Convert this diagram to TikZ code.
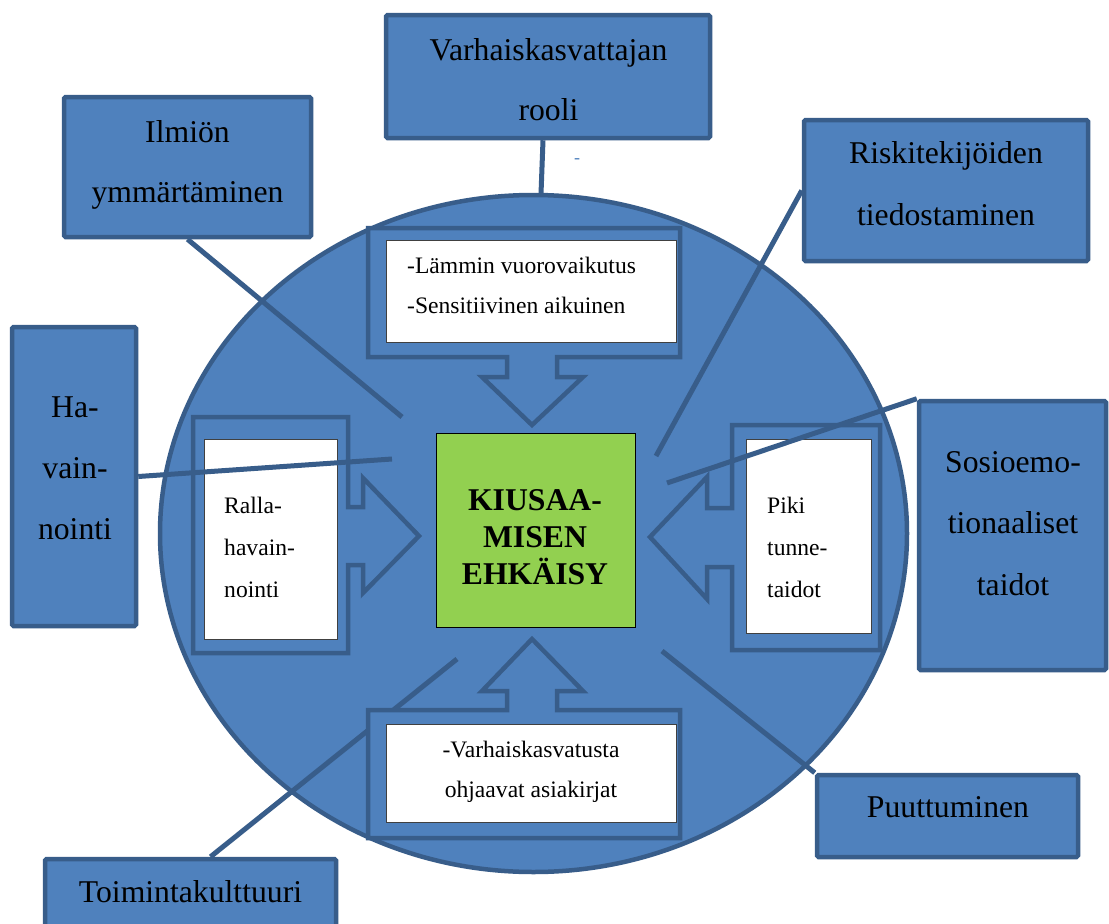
\documentclass[tikz,border=0pt]{standalone}
\usepackage{fontspec}
\setmainfont{Liberation Serif}
\definecolor{officeblue}{HTML}{4F81BD}
\definecolor{edgeblue}{HTML}{385D8A}
\definecolor{leafgreen}{HTML}{92D050}
\begin{document}
\begin{tikzpicture}[x=1pt,y=-1pt,
  bluebox/.style={draw=edgeblue, fill=officeblue, line width=4.5pt, rounded corners=1.5pt, inner sep=0pt},
  whitebox/.style={draw=black!75, fill=white, line width=1pt, inner sep=0pt},
  centrebox/.style={draw=black, fill=leafgreen, line width=1pt, inner sep=0pt},
  callout/.style={draw=edgeblue, fill=officeblue, line width=4.5pt, line join=miter},
  conn/.style={draw=edgeblue, line width=5pt},
  bigtext/.style={font=\fontsize{31.7}{38}\selectfont, anchor=base, inner sep=0pt},
  smalltext/.style={font=\fontsize{23.6}{28}\selectfont, anchor=base, inner sep=0pt},
  boldtext/.style={font=\fontsize{31.7}{38}\selectfont\bfseries, anchor=base, inner sep=0pt}]
\useasboundingbox (0,0) rectangle (1109,924);
\fill[white] (0,0) rectangle (1109,924);

% the large disc
\fill[officeblue, draw=edgeblue, line width=4.5pt] (533.5,533.5) ellipse [x radius=373.5, y radius=338.5];

% outer topic boxes
\node[bluebox, minimum width=324pt, minimum height=123pt] (varh) at (548,76.5) {};
\node[bluebox, minimum width=247pt, minimum height=140pt] (ilm) at (187.5,167) {};
\node[bluebox, minimum width=284pt, minimum height=141pt] (risk) at (946,190.5) {};
\node[bluebox, minimum width=124pt, minimum height=299pt] (hav) at (74,476.5) {};
\node[bluebox, minimum width=187pt, minimum height=269pt] (sos) at (1012.5,535.5) {};
\node[bluebox, minimum width=261pt, minimum height=82pt] (puut) at (947.5,816) {};
\node[bluebox, minimum width=291pt, minimum height=131pt] (toim) at (190.5,924.5) {};

% free ends of the connectors inside the disc
\coordinate (varhEnd) at (541,194);
\coordinate (ilmEnd) at (402,417);
\coordinate (riskEnd) at (656,456);
\coordinate (havEnd) at (392,459);
\coordinate (sosEnd) at (667,483);
\coordinate (puutEnd) at (662,651);
\coordinate (toimEnd) at (457,659);

% connectors that lie beneath the arrow callouts
\draw[conn] ([xshift=-5pt]varh.south) -- (varhEnd);
\draw[conn] (ilm.south) -- (ilmEnd);
\draw[conn] (risk.west) -- (riskEnd);
\draw[conn] (puut.north west) -- (puutEnd);
\draw[conn] ([xshift=20pt]toim.north) -- (toimEnd);

% arrow callouts pointing at the centre
\draw[callout] (368,228) -- (680,228) -- (680,357) -- (557,357) -- (557,377) -- (583,377)
  -- (532,425) -- (482,377) -- (507,377) -- (507,357) -- (368,357) -- cycle;
\draw[callout] (368,838) -- (680,838) -- (680,710) -- (557,710) -- (557,691) -- (583,691)
  -- (532,639) -- (482,691) -- (507,691) -- (507,710) -- (368,710) -- cycle;
\draw[callout] (193,417) -- (348,417) -- (348,507) -- (363,507) -- (363,478) -- (419,536)
  -- (363,593) -- (363,565) -- (348,565) -- (348,653) -- (193,653) -- cycle;
\draw[callout] (880,425) -- (732,425) -- (732,508) -- (707,508) -- (707,477) -- (650,537)
  -- (707,599) -- (707,567) -- (732,567) -- (732,650) -- (880,650) -- cycle;

% white text panels inside the callouts
\node[whitebox, minimum width=290pt, minimum height=102pt] (wtop) at (531,291) {};
\node[whitebox, minimum width=133pt, minimum height=200pt] (wleft) at (270.5,539) {};
\node[whitebox, minimum width=125pt, minimum height=194pt] (wright) at (808.5,536) {};
\node[whitebox, minimum width=290pt, minimum height=98pt] (wbot) at (531,773) {};

% connectors drawn over the side callouts
\draw[conn] (hav.east) -- (havEnd);
\draw[conn] (sos.north west) -- (sosEnd);

% centre box
\node[centrebox, minimum width=199pt, minimum height=194pt] (core) at (535.5,530) {};

% texts of the outer boxes
\node[bigtext] (varh-1) at (548.5,60) {Varhaiskasvattajan};
\node[bigtext] (varh-2) at (548.5,120) {rooli};
\node[font=\fontsize{18}{20}\selectfont, text=officeblue, anchor=base, inner sep=0pt] (dash) at (577,163) {-};
\node[bigtext] (ilm-1) at (187.5,142) {Ilmiön};
\node[bigtext] (ilm-2) at (187.5,202) {ymmärtäminen};
\node[bigtext] (risk-1) at (946,163) {Riskitekijöiden};
\node[bigtext] (risk-2) at (946,225) {tiedostaminen};
\node[bigtext] (hav-1) at (75,417) {Ha-};
\node[bigtext] (hav-2) at (75,478) {vain-};
\node[bigtext] (hav-3) at (75,539) {nointi};
\node[bigtext] (sos-1) at (1013,472) {Sosioemo-};
\node[bigtext] (sos-2) at (1013,533.5) {tionaaliset};
\node[bigtext] (sos-3) at (1013,595) {taidot};
\node[bigtext] (puut-1) at (948,817) {Puuttuminen};
\node[bigtext] (toim-1) at (190.5,902) {Toimintakulttuuri};

% texts of the white panels
\node[smalltext, anchor=base west] (wtop-1) at (407,273) {-Lämmin vuorovaikutus};
\node[smalltext, anchor=base west] (wtop-2) at (407,313) {-Sensitiivinen aikuinen};
\node[smalltext, anchor=base west] (wleft-1) at (224,513) {Ralla-};
\node[smalltext, anchor=base west] (wleft-2) at (224,555) {havain-};
\node[smalltext, anchor=base west] (wleft-3) at (224,597) {nointi};
\node[smalltext, anchor=base west] (wright-1) at (767,513) {Piki};
\node[smalltext, anchor=base west] (wright-2) at (767,555) {tunne-};
\node[smalltext, anchor=base west] (wright-3) at (767,597) {taidot};
\node[smalltext] (wbot-1) at (531,757) {-Varhaiskasvatusta};
\node[smalltext] (wbot-2) at (531,797) {ohjaavat asiakirjat};

% centre text
\node[boldtext] (core-1) at (535,510) {KIUSAA-};
\node[boldtext] (core-2) at (535,547) {MISEN};
\node[boldtext] (core-3) at (535,584) {EHKÄISY};
\end{tikzpicture}
\end{document}
